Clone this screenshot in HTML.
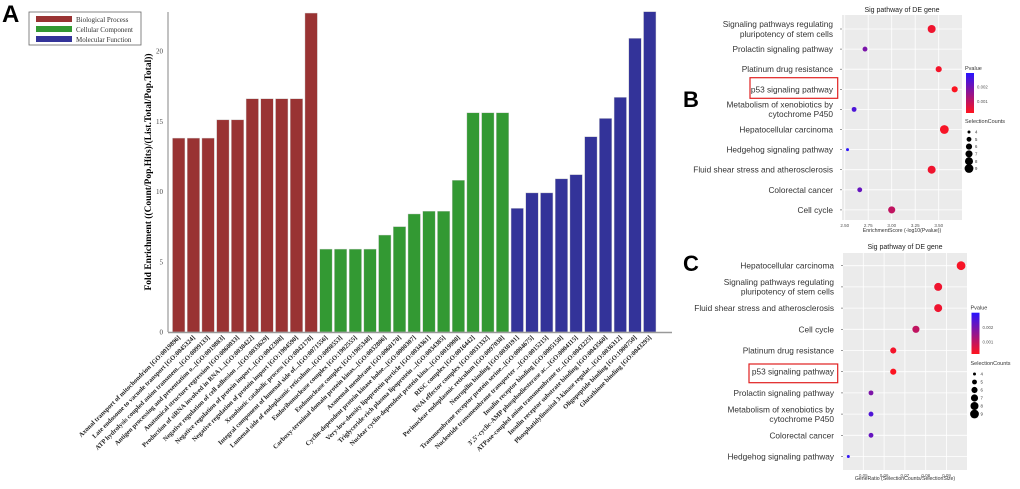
<!DOCTYPE html>
<html><head><meta charset="utf-8"><style>
html,body{margin:0;padding:0;background:#fff;}
svg{display:block;}
.ser{font-family:"Liberation Serif",serif;}
.san{font-family:"Liberation Sans",sans-serif;}
</style></head><body>
<svg id="fig" width="1020" height="489" viewBox="0 0 1020 489" xmlns="http://www.w3.org/2000/svg">
<text x="2" y="22" class="san" font-size="24" font-weight="bold">A</text>
<text x="683" y="107" class="san" font-size="22" font-weight="bold">B</text>
<text x="683" y="271" class="san" font-size="22" font-weight="bold">C</text>
<g id="legendA">
<rect x="29" y="12" width="112" height="33" fill="#fff" stroke="#666" stroke-width="0.8"/>
<rect x="36" y="16" width="36" height="6" fill="#993333"/>
<text x="76" y="22" class="ser" font-size="7" fill="#333">Biological Process</text>
<rect x="36" y="26" width="36" height="6" fill="#339933"/>
<text x="76" y="32" class="ser" font-size="7" fill="#333">Cellular Component</text>
<rect x="36" y="36" width="36" height="6" fill="#333399"/>
<text x="76" y="42" class="ser" font-size="7" fill="#333">Molecular Function</text>
</g>
<text transform="translate(151,172) rotate(-90)" text-anchor="middle" class="ser" font-size="9.5" font-weight="bold">Fold Enrichment ((Count/Pop.Hits)/(List.Total/Pop.Total))</text>
<g id="gA"></g><g id="gB"></g><g id="gC"></g>
</svg>
<script>
const NS="http://www.w3.org/2000/svg";
// ---- Panel A data
const goTerms=["Axonal transport of mitochondrion [GO:0019896]","Late endosome to vacuole transport [GO:0045324]","ATP hydrolysis coupled anion transmem...[GO:0099133]","Antigen processing and presentation o...[GO:0019883]","Anatomical structure regression [GO:0060033]","Production of siRNA involved in RNA i...[GO:0030422]","Negative regulation of cell adhesion ...[GO:0033629]","Negative regulation of protein import...[GO:0042308]","Negative regulation of protein import [GO:1904590]","Xenobiotic catabolic process [GO:0042178]","Integral component of lumenal side of...[GO:0071556]","Lumenal side of endoplasmic reticulum...[GO:0098553]","Endoribonuclease complex [GO:1902555]","Endonuclease complex [GO:1905348]","Carboxy-terminal domain protein kinas...[GO:0032806]","Axonemal membrane [GO:0060170]","Cyclin-dependent protein kinase holoe...[GO:0000307]","Very-low-density lipoprotein particle [GO:0034361]","Triglyceride-rich plasma lipoprotein ...[GO:0034385]","Nuclear cyclin-dependent protein kina...[GO:0019908]","RISC complex [GO:0016442]","RNAi effector complex [GO:0031332]","Perinuclear endoplasmic reticulum [GO:0097038]","Neuropilin binding [GO:0038191]","Transmembrane receptor protein serine...[GO:0004675]","Nucleotide transmembrane transporter ...[GO:0015215]","Insulin receptor binding [GO:0005158]","3',5'-cyclic-AMP phosphodiesterase ac...[GO:0004115]","ATPase-coupled anion transmembrane tr...[GO:0043225]","Insulin receptor substrate binding [GO:0043560]","Phosphatidylinositol 3-kinase regulat...[GO:0036312]","Oligopeptide binding [GO:1900750]","Glutathione binding [GO:0043295]"];
const goCategory=["BP","BP","BP","BP","BP","BP","BP","BP","BP","BP","CC","CC","CC","CC","CC","CC","CC","CC","CC","CC","CC","CC","CC","MF","MF","MF","MF","MF","MF","MF","MF","MF","MF"];
const foldEnrichment=[13.8,13.8,13.8,15.1,15.1,16.6,16.6,16.6,16.6,22.7,5.9,5.9,5.9,5.9,6.9,7.5,8.4,8.6,8.6,10.8,15.6,15.6,15.6,8.8,9.9,9.9,10.9,11.2,13.9,15.2,16.7,20.9,22.8];
const yTicksA=[0,5,10,15,20];
// ---- Panel B data
const pathwaysB=["Signaling pathways regulating|pluripotency of stem cells","Prolactin signaling pathway","Platinum drug resistance","p53 signaling pathway","Metabolism of xenobiotics by|cytochrome P450","Hepatocellular carcinoma","Hedgehog signaling pathway","Fluid shear stress and atherosclerosis","Colorectal cancer","Cell cycle"];
const enrichScoreB=[3.425,2.716,3.50,3.67,2.60,3.56,2.53,3.425,2.66,3.00];
const countsB=[8,5,6,6,5,9,4,8,5,7];
const xTicksB=[2.50,2.75,3.00,3.25,3.50];
// ---- Panel C data
const pathwaysC=["Hepatocellular carcinoma","Signaling pathways regulating|pluripotency of stem cells","Fluid shear stress and atherosclerosis","Cell cycle","Platinum drug resistance","p53 signaling pathway","Prolactin signaling pathway","Metabolism of xenobiotics by|cytochrome P450","Colorectal cancer","Hedgehog signaling pathway"];
const geneRatioC=[0.097,0.086,0.086,0.0753,0.0644,0.0644,0.0537,0.0537,0.0537,0.0428];
const countsC=[9,8,8,7,6,6,5,5,5,4];
const pvalueC=[0.00028,0.00038,0.00038,0.001,0.00032,0.00021,0.0019,0.0025,0.0022,0.0029];
const xTicksC=[0.05,0.06,0.07,0.08,0.09];
const sizeLegend=[4,5,6,7,8,9];
const pTicks=[0.002,0.001];

function el(tag,attrs,parent,txt){const e=document.createElementNS(NS,tag);for(const k in attrs)e.setAttribute(k,attrs[k]);if(txt!==undefined)e.textContent=txt;parent.appendChild(e);return e;}
const catColor={BP:"#993333",CC:"#339933",MF:"#333399"};

// ---- Panel A
(function(){
const g=document.getElementById("gA");
const y0=332,pxPer=14.05,x0=171.5,pitch=14.72,bw=12.4;
const yS=v=>y0-v*pxPer;
el("line",{x1:168,y1:12,x2:168,y2:y0,stroke:"#999","stroke-width":1.2},g);
yTicksA.forEach(t=>{
  const tx=el("text",{x:163,y:yS(t)+2.5,"text-anchor":"end","font-size":7,fill:"#444",class:"ser"},g,String(t));
  
  
});
foldEnrichment.forEach((v,i)=>{
  const x=x0+i*pitch;
  const r=el("rect",{x:x+1,y:yS(v),width:bw,height:y0-yS(v),fill:catColor[goCategory[i]],stroke:"#ccc","stroke-width":0.4},g);
  
  
  const cx=x+1+bw/2+2;
  const t=el("text",{x:cx,y:338,"text-anchor":"end","font-size":6.6,"font-weight":"bold",fill:"#222",class:"ser",transform:`rotate(-45 ${cx} 338)`},g,goTerms[i]);
  
  
});
el("line",{x1:168,y1:y0+0.5,x2:672,y2:y0+0.5,stroke:"#999","stroke-width":1.5},g);
})();

function pColor(p){const lo=0.00017,hi=0.003;let f=(p-lo)/(hi-lo);f=Math.max(0,Math.min(1,f));
 const r=Math.round(255*(1-f)+40*f),b=Math.round(30*(1-f)+255*f),gg=Math.round(20*(1-f)+20*f);return `rgb(${r},${gg},${b})`;}
function rad(c){return 0.4+Math.sqrt(Math.max(c-3.6,0))*1.72;}

function dotPanel(g,o){
  el("text",{x:o.titleX,y:o.titleY,"text-anchor":"middle","font-size":7,fill:"#222",class:"san"},g,"Sig pathway of DE gene");
  const bg=el("rect",{x:o.L,y:o.T,width:o.R-o.L,height:o.B-o.T,fill:"#ebebeb"},g);
  
  
  o.xt.forEach(t=>{const x=o.xs(t);
    el("line",{x1:x,y1:o.T,x2:x,y2:o.B,stroke:"#fff","stroke-width":0.8},g);
    const tl=el("text",{x:x,y:o.B+7,"text-anchor":"middle","font-size":4.5,fill:"#555",class:"san"},g,o.fmt(t));
    
    
  });
  o.labels.forEach((lab,i)=>{const y=o.ys(i);
    el("line",{x1:o.L,y1:y,x2:o.R,y2:y,stroke:"#fff","stroke-width":0.8},g);
    el("line",{x1:o.L-2,y1:y,x2:o.L,y2:y,stroke:"#555","stroke-width":0.6},g);
    const parts=lab.split("|");
    parts.forEach((p,k)=>{
      const ty=y+3+(k-(parts.length-1)/2)*9.6;
      const t=el("text",{x:o.L-9,y:ty,"text-anchor":"end","font-size":8.3,fill:"#333",class:"san"},g,p);
      
      
    });
  });
  o.vals.forEach((v,i)=>{
    const c=el("circle",{cx:o.xs(v),cy:o.ys(i),r:rad(o.counts[i]),fill:pColor(o.pv[i])},g);
    
    
  });
  el("text",{x:o.xTitleX,y:o.xTitleY,"text-anchor":"middle","font-size":5.2,fill:"#333",class:"san"},g,o.xTitle);
  const hb=el("rect",{x:o.box[0],y:o.box[1],width:o.box[2]-o.box[0],height:o.box[3]-o.box[1],fill:"none",stroke:"#e02020","stroke-width":1.2},g);
  
  
  // colorbar
  const id="grad"+o.id;const defs=el("defs",{},g);const lg=el("linearGradient",{id:id,x1:0,y1:1,x2:0,y2:0},defs);
  el("stop",{offset:"0",["stop-color"]:pColor(0.00017)},lg);el("stop",{offset:"0.5",["stop-color"]:pColor(0.0016)},lg);el("stop",{offset:"1",["stop-color"]:pColor(0.003)},lg);
  el("text",{x:o.cbX-1,y:o.cbT-3,"font-size":5.5,fill:"#333",class:"san"},g,"Pvalue");
  const cb=el("rect",{x:o.cbX,y:o.cbT,width:8,height:o.cbB-o.cbT,fill:`url(#${id})`},g);
  
  
  const cbs=p=>o.cbB-(p-0.00017)/(0.003-0.00017)*(o.cbB-o.cbT);
  pTicks.forEach(p=>{el("text",{x:o.cbX+11,y:cbs(p)+1.5,"font-size":4.3,fill:"#555",class:"san"},g,p.toFixed(3));});
  el("text",{x:o.cbX-1,y:o.sT,"font-size":5.5,fill:"#333",class:"san"},g,"SelectionCounts");
  sizeLegend.forEach((c,k)=>{const y=o.sT+9+k*o.sStep;
    const d=el("circle",{cx:o.cbX+3,cy:y,r:rad(c),fill:"#000"},g);
    
    
    el("text",{x:o.cbX+9,y:y+1.6,"font-size":4.3,fill:"#333",class:"san"},g,String(c));
  });
}
dotPanel(document.getElementById("gB"),{id:"B",L:842,R:962,T:15,B:220,titleX:902,titleY:12,
 xs:v=>844.7+(v-2.5)*94,ys:i=>29+i*20.1,xt:xTicksB,fmt:t=>t.toFixed(2),labels:pathwaysB,vals:enrichScoreB,counts:countsB,
 pv:enrichScoreB.map(s=>Math.pow(10,-s)),xTitle:"EnrichmentScore (-log10(Pvalue))",xTitleX:902,xTitleY:232,
 box:[750,77.7,837.7,98.3],cbX:966,cbT:73,cbB:113,sT:123,sStep:7.3});
dotPanel(document.getElementById("gC"),{id:"C",L:843,R:967,T:253,B:470,titleX:905,titleY:249,
 xs:v=>863.3+(v-0.05)*2080,ys:i=>265.7+i*21.2,xt:xTicksC,fmt:t=>t.toFixed(2),labels:pathwaysC,vals:geneRatioC,counts:countsC,
 pv:pvalueC,xTitle:"GeneRatio (SelectionCounts/SelectionSize)",xTitleX:905,xTitleY:480,
 box:[749,364,837.7,382.7],cbX:971.5,cbT:312.7,cbB:354,sT:365,sStep:8});
</script>
</body></html>
